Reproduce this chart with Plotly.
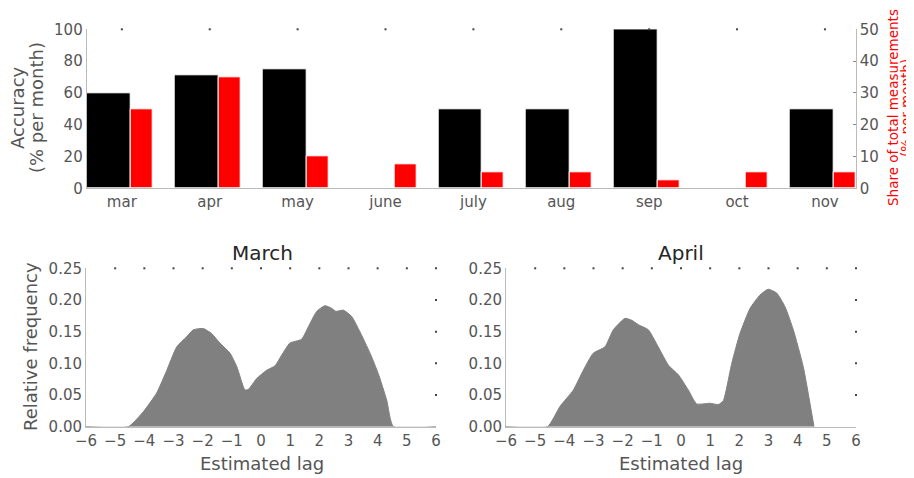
import plotly.graph_objects as go

# page body has an 8px margin; the figure is sized/positioned to compensate
OFF = 8
W, H = 914 - OFF, 478 - OFF

months = ["mar", "apr", "may", "june", "july", "aug", "sep", "oct", "nov"]
accuracy = [60, 71, 75, 0, 50, 50, 100, 0, 50]
share = [25, 35, 10, 7.5, 5, 5, 2.5, 5, 5]
acc_ticks = [0, 20, 40, 60, 80, 100]
share_ticks = [0, 10, 20, 30, 40, 50]

march_lag = [-6, -4.55, -4.03, -3.58, -3.23, -2.89, -2.55, -2.32, -1.98, -1.69, -1.41, -1.06,
             -0.83, -0.55, -0.43, -0.15, 0.19, 0.48, 0.71, 0.99, 1.39, 1.68, 1.91, 2.19,
             2.42, 2.57, 2.82, 3.11, 3.39, 3.74, 4.02, 4.31, 4.54, 6]
march_freq = [0, 0, 0.024, 0.053, 0.089, 0.126, 0.142, 0.153, 0.155, 0.147, 0.132, 0.116,
              0.095, 0.058, 0.059, 0.076, 0.089, 0.096, 0.113, 0.132, 0.138, 0.163, 0.182, 0.191,
              0.187, 0.182, 0.184, 0.174, 0.150, 0.116, 0.084, 0.042, 0, 0]

april_lag = [-6, -4.58, -4.15, -3.69, -3.35, -3.01, -2.61, -2.32, -1.92, -1.69, -1.46, -1.12,
             -0.78, -0.43, -0.09, 0.25, 0.54, 0.99, 1.28, 1.45, 1.74, 2.02, 2.37, 2.71,
             2.99, 3.28, 3.57, 3.85, 4.19, 4.56, 6]
april_freq = [0, 0, 0.032, 0.058, 0.089, 0.116, 0.126, 0.153, 0.171, 0.168, 0.161, 0.153,
              0.126, 0.097, 0.082, 0.058, 0.036, 0.037, 0.035, 0.041, 0.100, 0.147, 0.187, 0.208,
              0.217, 0.211, 0.189, 0.153, 0.095, 0]

lag_ticks = [-6, -5, -4, -3, -2, -1, 0, 1, 2, 3, 4, 5, 6]
freq_ticks = [0.0, 0.05, 0.10, 0.15, 0.20, 0.25]

FONT = "DejaVu Sans"
TICK_COL = "#555555"
AXIS_COL = "#bbbbbb"
DOT_COL = "#444444"

def px_x(a, b):
    return [(a - OFF) / W, (b - OFF) / W]

def px_y(top, bottom):
    return [(H - (bottom - OFF)) / H, (H - (top - OFF)) / H]

fig = go.Figure()

xi = list(range(len(months)))
fig.add_trace(go.Bar(x=[i - 0.4 for i in xi], y=accuracy, width=0.5, offset=0,
                     marker=dict(color="black", line=dict(color="white", width=1)),
                     xaxis="x", yaxis="y", showlegend=False))
fig.add_trace(go.Bar(x=[i + 0.1 for i in xi], y=share, width=0.25, offset=0,
                     marker=dict(color="red", line=dict(color="white", width=1)),
                     xaxis="x", yaxis="y2", showlegend=False))
fig.add_trace(go.Scatter(x=xi, y=[acc_ticks[-1]] * len(xi), mode="markers",
                         marker=dict(size=2, color=DOT_COL, symbol="square"),
                         cliponaxis=False, xaxis="x", yaxis="y", showlegend=False, hoverinfo="skip"))

for lag, freq, xa, ya in [(march_lag, march_freq, "x3", "y3"), (april_lag, april_freq, "x4", "y4")]:
    fig.add_trace(go.Scatter(x=lag, y=freq, mode="lines", fill="tozeroy",
                             line=dict(color="#808080", width=1, shape="spline", smoothing=0.5),
                             fillcolor="#808080", xaxis=xa, yaxis=ya, showlegend=False))
    fig.add_trace(go.Scatter(x=lag_ticks[1:], y=[freq_ticks[-1]] * (len(lag_ticks) - 1), mode="markers",
                             marker=dict(size=2, color=DOT_COL, symbol="square"),
                             cliponaxis=False, xaxis=xa, yaxis=ya, showlegend=False, hoverinfo="skip"))
    fig.add_trace(go.Scatter(x=[lag_ticks[-1]] * (len(freq_ticks) - 2), y=freq_ticks[1:-1], mode="markers",
                             marker=dict(size=2, color=DOT_COL, symbol="square"),
                             cliponaxis=False, xaxis=xa, yaxis=ya, showlegend=False, hoverinfo="skip"))

tickfont = dict(family=FONT, size=15, color=TICK_COL)

common_axis = dict(showgrid=False, zeroline=False, showline=True, linecolor=AXIS_COL,
                   linewidth=1, tickfont=tickfont, ticks="", automargin=False)

fig.update_layout(
    width=W, height=H,
    margin=dict(l=0, r=0, t=0, b=0),
    paper_bgcolor="white", plot_bgcolor="white",
    font=dict(family=FONT, color=TICK_COL),
    bargap=0,
    barmode="overlay",
    xaxis=dict(domain=px_x(86.7, 855.7), range=[-0.4, 8.35], tickmode="array",
               tickvals=xi, ticktext=months, anchor="y", **common_axis),
    yaxis=dict(domain=px_y(29.3, 188.3), range=[0, 100], tickmode="array", tickvals=acc_ticks,
               anchor="x", **common_axis),
    yaxis2=dict(range=[0, 50], tickmode="array", tickvals=share_ticks, overlaying="y", side="right",
                anchor="x", showgrid=False, zeroline=False, showline=True, linecolor=AXIS_COL,
                linewidth=1, tickfont=tickfont, ticks="inside", ticklen=3, tickcolor="#888888",
                automargin=False),
    xaxis3=dict(domain=px_x(86, 436), range=[-6, 6], tickmode="array", tickvals=lag_ticks,
                anchor="y3", **common_axis),
    yaxis3=dict(domain=px_y(268.3, 426.7), range=[0, 0.25], tickmode="array", tickvals=freq_ticks,
                tickformat=".2f", anchor="x3", **common_axis),
    xaxis4=dict(domain=px_x(506, 856), range=[-6, 6], tickmode="array", tickvals=lag_ticks,
                anchor="y4", **common_axis),
    yaxis4=dict(domain=px_y(268.3, 426.7), range=[0, 0.25], tickmode="array", tickvals=freq_ticks,
                tickformat=".2f", anchor="x4", **common_axis),
)

def ann(text, x, y, size, color, angle=0):
    fig.add_annotation(text=text, x=(x - OFF) / W, y=(H - (y - OFF)) / H, xref="paper", yref="paper",
                       showarrow=False, textangle=angle, xanchor="center", yanchor="middle",
                       font=dict(family=FONT, size=size, color=color), borderpad=0)

ann("Accuracy", 18, 108, 18, TICK_COL, -90)
ann("(% per month)", 37, 108, 18, TICK_COL, -90)
ann("Share of total measurements", 893, 108, 13.5, "red", -90)
ann("(% per month)", 906, 108, 13.5, "red", -90)
ann("Relative frequency", 30, 347, 18, TICK_COL, -90)
ann("Estimated lag", 262, 463, 18, TICK_COL)
ann("Estimated lag", 681, 463, 18, TICK_COL)
ann("March", 262, 253, 20, "#262626")
ann("April", 681, 253, 20, "#262626")

fig.write_html("out.html")
